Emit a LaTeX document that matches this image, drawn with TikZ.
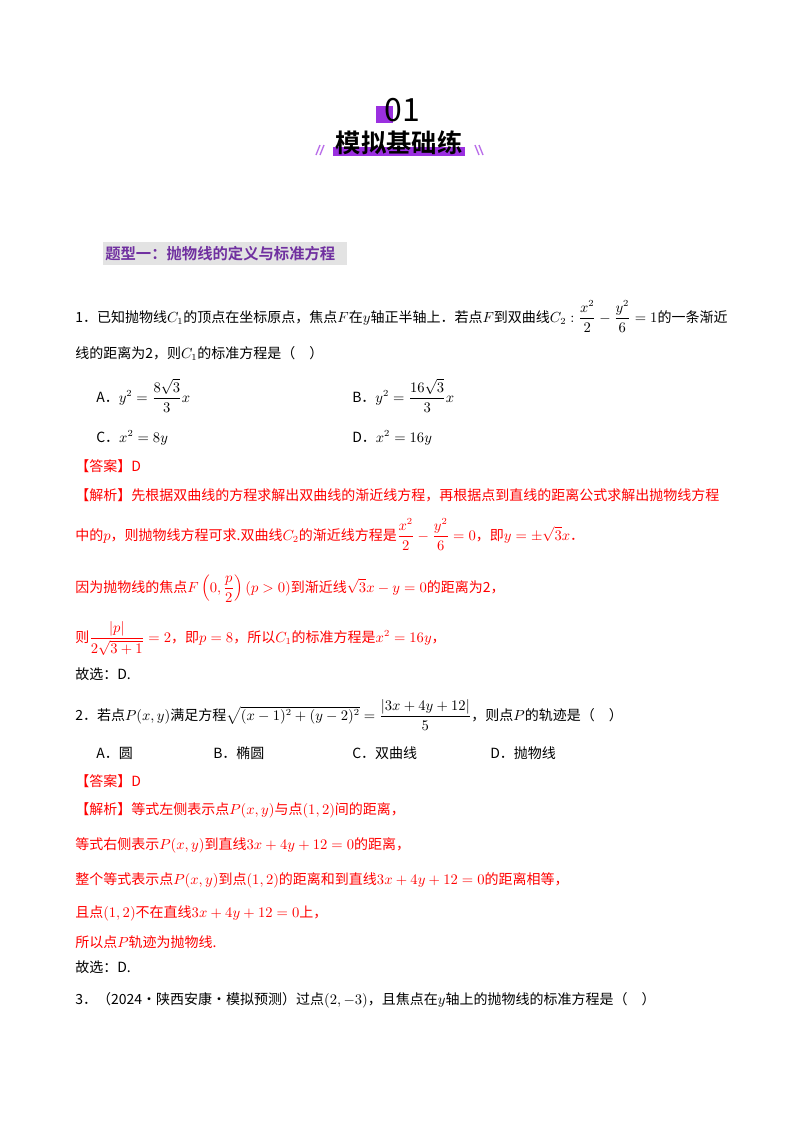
\documentclass[tikz,border=0pt]{standalone}
\usepackage{fontspec}
\usepackage{amsmath}
\setmainfont{Noto Sans CJK SC}
\newfontfamily\cjkb{Noto Sans CJK SC Bold}
\definecolor{pur}{HTML}{9B30E0}
\definecolor{ptext}{HTML}{7030A0}
\definecolor{rd}{HTML}{FF0000}
\tikzset{ln/.style={anchor=base west,inner sep=0pt,font=\fontsize{10.5}{12}\selectfont},
 red/.style={ln,text=rd}}
\begin{document}
\begin{tikzpicture}[x=0.75pt,y=-0.75pt]
\useasboundingbox (0,0) rectangle (800,1132);
\fill[pur] (376,106) rectangle (393,123);
\node[inner sep=0pt,font=\fontsize{24}{26}\selectfont] (num) at (402,110) {01};
\fill[pur] (333,147) rectangle (465,156);
\node[inner sep=0pt,font=\cjkb\fontsize{19}{21}\selectfont] (ttl) at (399,143) {模拟基础练};
\foreach \dx in {0,4}{\draw[pur!70,line width=1pt] (316+\dx,155)--(320+\dx,145); \draw[pur!70,line width=1pt] (475+\dx,145)--(479+\dx,155);}
\fill[gray!22] (103,242) rectangle (347,265);
\node[ln,anchor=west,text=ptext,font=\cjkb\fontsize{11.5}{12}\selectfont] (h1) at (105,254) {题型一：抛物线的定义与标准方程};
\node[ln] (q1a) at (75,322) {1．已知抛物线$C_1$的顶点在坐标原点，焦点$F$在$y$轴正半轴上．若点$F$到双曲线$C_2:\dfrac{x^2}{2}-\dfrac{y^2}{6}=1$的一条渐近};
\node[ln] (q1b) at (75,358) {线的距离为2，则$C_1$的标准方程是（\quad）};
\node[ln] (oA) at (96,402) {A．$y^2=\dfrac{8\sqrt3}{3}x$};
\node[ln] (oB) at (352,402) {B．$y^2=\dfrac{16\sqrt3}{3}x$};
\node[ln] (oC) at (96,442) {C．$x^2=8y$};
\node[ln] (oD) at (352,442) {D．$x^2=16y$};
\node[red] (a1) at (75,471) {【答案】D};
\node[red] (j1) at (75,500) {【解析】先根据双曲线的方程求解出双曲线的渐近线方程，再根据点到直线的距离公式求解出抛物线方程};
\node[red] (j2) at (75,540) {中的$p$，则抛物线方程可求.双曲线$C_2$的渐近线方程是$\dfrac{x^2}{2}-\dfrac{y^2}{6}=0$，即$y=\pm\sqrt3x$．};
\node[red] (j3) at (75,592) {因为抛物线的焦点$F\left(0,\dfrac{p}{2}\right)(p>0)$到渐近线$\sqrt3x-y=0$的距离为2，};
\node[red] (j4) at (75,642) {则$\dfrac{|p|}{2\sqrt{3+1}}=2$，即$p=8$，所以$C_1$的标准方程是$x^2=16y$，};
\node[ln] (g1) at (75,679) {故选：D.};
\node[ln] (q2) at (75,720) {2．若点$P(x,y)$满足方程$\sqrt{(x-1)^2+(y-2)^2}=\dfrac{|3x+4y+12|}{5}$，则点$P$的轨迹是（\quad）};
\node[ln] (pA) at (96,758) {A．圆};
\node[ln] (pB) at (213,758) {B．椭圆};
\node[ln] (pC) at (352,758) {C．双曲线};
\node[ln] (pD) at (490,758) {D．抛物线};
\node[red] (a2) at (75,786) {【答案】D};
\node[red] (k1) at (75,814) {【解析】等式左侧表示点$P(x,y)$与点$(1,2)$间的距离，};
\node[red] (k2) at (75,849) {等式右侧表示$P(x,y)$到直线$3x+4y+12=0$的距离，};
\node[red] (k3) at (75,884) {整个等式表示点$P(x,y)$到点$(1,2)$的距离和到直线$3x+4y+12=0$的距离相等，};
\node[red] (k4) at (75,917) {且点$(1,2)$不在直线$3x+4y+12=0$上，};
\node[red] (k5) at (75,947) {所以点$P$轨迹为抛物线.};
\node[ln] (g2) at (75,972) {故选：D.};
\node[ln] (q3) at (75,1004) {3．（2024·陕西安康·模拟预测）过点$(2,-3)$，且焦点在$y$轴上的抛物线的标准方程是（\quad）};
\end{tikzpicture}
\end{document}
